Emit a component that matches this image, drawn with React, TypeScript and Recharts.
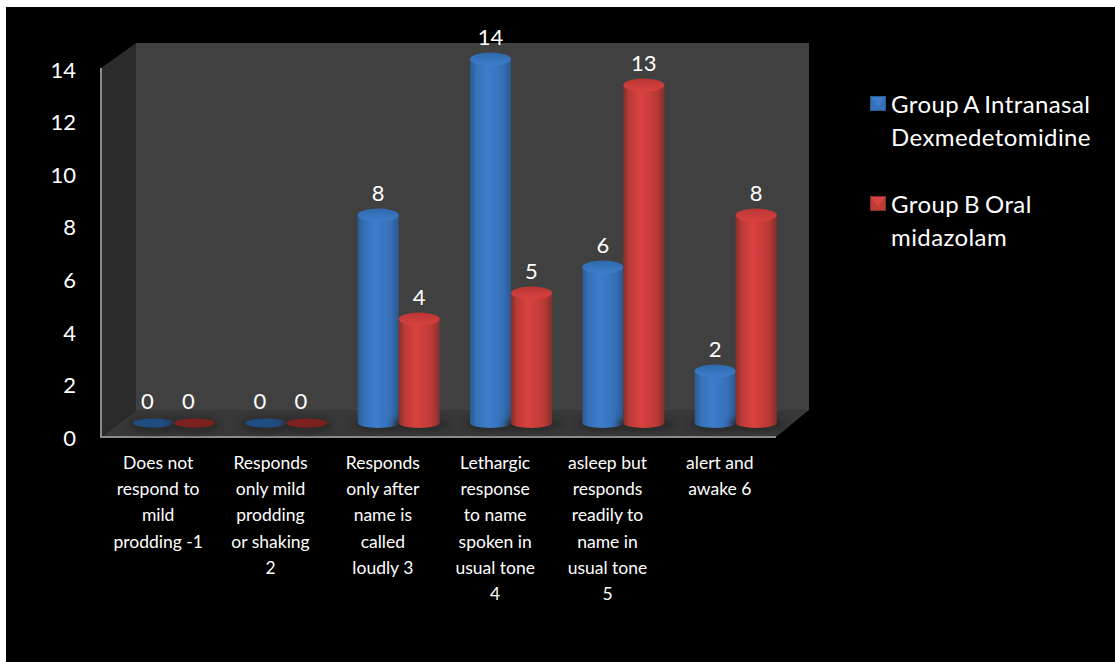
import React from "react";
import { BarChart, Bar, XAxis, YAxis, LabelList, Legend } from "recharts";

const categories = [
  "Does not|respond to|mild|prodding -1",
  "Responds|only mild|prodding|or shaking|2",
  "Responds|only after|name is|called|loudly 3",
  "Lethargic|response|to name|spoken in|usual tone|4",
  "asleep but|responds|readily to|name in|usual tone|5",
  "alert and|awake 6",
];
const groupA = [0, 0, 8, 14, 6, 2];
const groupB = [0, 0, 4, 5, 13, 8];
const yTicks = [0, 2, 4, 6, 8, 10, 12, 14];
const seriesA = "Group A Intranasal Dexmedetomidine";
const seriesB = "Group B Oral midazolam";

const rows = categories.map((name, i) => ({ name, a: groupA[i], b: groupB[i] }));

const FONT = "Lato, 'Open Sans', sans-serif";

const palette: Record<string, { edge: string; mid: string; lite: string; top: string; flat: string }> = {
  a: { edge: "#2a5a8f", mid: "#3670b8", lite: "#3d7dcb", top: "#2f69ad", flat: "#1f4d80" },
  b: { edge: "#84302d", mid: "#bd3a37", lite: "#d9423f", top: "#b93634", flat: "#7c2020" },
};

function Cylinder(props: any) {
  const { x, y, width, height, series } = props;
  const c = palette[series];
  const rx = width / 2;
  const ry = 6.5;
  const cx = x + rx;
  const h = Math.max(height, 0);
  if (h < 1) {
    return (
      <g>
        <ellipse cx={cx} cy={y + 2} rx={rx + 5} ry={ry + 2} fill="#2c2c2c" filter="url(#floorShadow)" />
        <ellipse cx={cx} cy={y} rx={rx} ry={ry - 2} fill={c.flat} />
      </g>
    );
  }
  return (
    <g>
      <ellipse cx={cx + 2} cy={y + h + 1} rx={rx + 8} ry={ry + 1} fill="#2a2a2a" filter="url(#floorShadow)" />
      <path
        d={`M${x},${y} L${x},${y + h} A${rx},5 0 0 0 ${x + width},${y + h} L${x + width},${y} Z`}
        fill={`url(#body-${series})`}
      />
      <ellipse cx={cx} cy={y} rx={rx} ry={ry} fill={`url(#cap-${series})`} />
    </g>
  );
}

// Value caption above a cylinder; the flat zero markers carry theirs slightly to the left.
function ValueCaption(props: any) {
  const { x, y, width, value } = props;
  const shift = Number(value) === 0 ? -6 : 0;
  return (
    <text x={x + width / 2 + shift} y={y - 14} fill="#ffffff" fontFamily={FONT} fontSize={22} textAnchor="middle">
      {value}
    </text>
  );
}

function CategoryTick(props: any) {
  const { x, y, payload } = props;
  const lines = String(payload.value).split("|");
  return (
    <text x={x - 16} y={y} fill="#ffffff" fontFamily={FONT} fontSize={17.5} textAnchor="middle">
      {lines.map((line: string, i: number) => (
        <tspan key={i} x={x - 16} dy={i === 0 ? 0 : 26.2}>
          {line}
        </tspan>
      ))}
    </text>
  );
}

function LegendSwatch({ series }: { series: string }) {
  const c = palette[series];
  return (
    <svg width={16} height={15} style={{ position: "absolute", left: 0, top: 9 }}>
      <rect x={0} y={0} width={16} height={15} fill={c.edge} />
      <polygon points="1,1 15,1 15,14 1,14" fill={c.mid} />
      <polygon points="1,1 15,1 8,11" fill={c.lite} />
    </svg>
  );
}

function LegendBody() {
  const items = [
    { key: "a", label: seriesA, height: 100 },
    { key: "b", label: seriesB, height: 66 },
  ];
  return (
    <div style={{ color: "#fff", fontFamily: FONT, fontSize: 24, letterSpacing: 0.4, wordSpacing: -1.5, lineHeight: "33px" }}>
      {items.map((item) => (
        <div key={item.key} style={{ position: "relative", paddingLeft: 21, height: item.height, width: 225 }}>
          <LegendSwatch series={item.key} />
          {item.label}
        </div>
      ))}
    </div>
  );
}

// Chart-space outline of the box behind the cylinders.
const backdrop = {
  wall: "136,43 809,43 809,410 136,410",
  side: "101,68 136,43 136,410 101,437",
  floor: "101,437 136,410 809,410 776,437",
};

export default function App() {
  return (
    <div style={{ position: "absolute", left: 0, top: 0, width: 1115, height: 662, background: "#fff", overflow: "hidden" }}>
      <div style={{ position: "absolute", left: 6, top: 7, width: 1109, height: 655, background: "#000" }} />
      <div style={{ position: "absolute", left: 0, top: 0 }}>
        <BarChart
          width={1115}
          height={662}
          data={rows}
          margin={{ top: 43, right: 93, bottom: 0, left: 0 }}
          barGap={0}
        >
          <defs>
            {Object.keys(palette).map((k) => (
              <React.Fragment key={k}>
                <linearGradient id={`body-${k}`} x1="0" x2="1" y1="0" y2="0">
                  <stop offset="0" stopColor={palette[k].edge} />
                  <stop offset="0.15" stopColor={palette[k].mid} />
                  <stop offset="0.42" stopColor={palette[k].lite} />
                  <stop offset="0.8" stopColor={palette[k].mid} />
                  <stop offset="1" stopColor={palette[k].edge} />
                </linearGradient>
                <linearGradient id={`cap-${k}`} x1="0" x2="0" y1="0" y2="1">
                  <stop offset="0" stopColor={palette[k].top} />
                  <stop offset="1" stopColor={palette[k].lite} />
                </linearGradient>
              </React.Fragment>
            ))}
            <filter id="floorShadow" x="-30%" y="-60%" width="160%" height="220%">
              <feGaussianBlur stdDeviation="3" />
            </filter>
          </defs>
          <g>
            <polygon points={backdrop.wall} fill="#404040" />
            <polygon points={backdrop.side} fill="#2b2b2b" />
            <polygon points={backdrop.floor} fill="#383838" />
            <polyline points="101,68 101,437 776,437" fill="none" stroke="#8c8c8c" strokeWidth={2} />
          </g>
          <XAxis
            dataKey="name"
            axisLine={false}
            tickLine={false}
            tick={<CategoryTick />}
            tickSize={0}
            tickMargin={32}
            interval={0}
            height={225}
          />
          <YAxis
            yAxisId="scale"
            orientation="left"
            domain={[0, 14.98]}
            ticks={yTicks}
            interval={0}
            axisLine={false}
            tickLine={false}
            width={118}
            tickSize={0}
            tickMargin={42}
            dy={1}
            tick={{ fill: "#ffffff", fontFamily: FONT, fontSize: 22 }}
            allowDataOverflow
          />
          <YAxis yAxisId="bars" hide width={0} domain={[-0.54, 14.62]} allowDataOverflow />
          <Legend
            layout="vertical"
            align="right"
            verticalAlign="top"
            content={<LegendBody />}
            wrapperStyle={{ left: 870, top: 87, width: 230 }}
          />
          <Bar yAxisId="bars" dataKey="a" name={seriesA} barSize={41} isAnimationActive={false} shape={<Cylinder series="a" />}>
            <LabelList dataKey="a" content={<ValueCaption />} />
          </Bar>
          <Bar yAxisId="bars" dataKey="b" name={seriesB} barSize={41} isAnimationActive={false} shape={<Cylinder series="b" />}>
            <LabelList dataKey="b" content={<ValueCaption />} />
          </Bar>
        </BarChart>
      </div>
    </div>
  );
}
